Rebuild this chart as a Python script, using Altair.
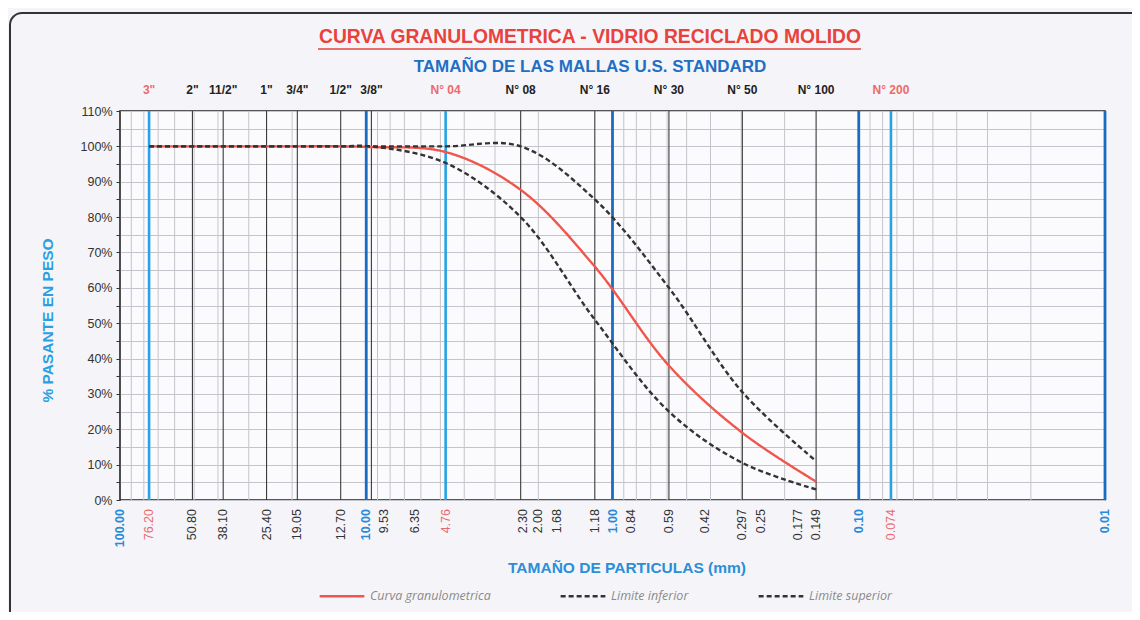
import altair as alt
import pandas as pd

# ---------------- data ----------------
sizes = [76.2, 50.8, 38.1, 25.4, 19.05, 12.7, 9.53, 4.76, 2.36, 1.18, 0.59, 0.297, 0.149]
curva = [100, 100, 100, 100, 100, 100, 99.8, 98.4, 87.7, 66, 38, 19, 5.2]
inferior = [100, 100, 100, 100, 100, 100, 100, 95.3, 80, 51, 25, 10.5, 3]
superior = [100, 100, 100, 100, 100, 100, 100, 100, 100, 85, 60, 30.5, 11]
series_names = ["Curva granulometrica", "Limite inferior", "Limite superior"]

# top sieve labels
top_vals = [76.2, 50.8, 38.1, 25.4, 19.05, 12.7, 9.53, 4.76, 2.36, 1.18, 0.59, 0.297, 0.149, 0.074]
top_text = ['3"', '2"', '11/2"', '1"', '3/4"', '1/2"', '3/8"', 'N° 04', 'N° 08', 'N° 16',
            'N° 30', 'N° 50', 'N° 100', 'N° 200']
top_red = ['3"', 'N° 04', 'N° 200']

# bottom size labels
bot_vals = [100, 76.2, 50.8, 38.1, 25.4, 19.05, 12.7, 10, 9.53, 6.35, 4.76, 2.30, 2.00, 1.68,
            1.18, 1.00, 0.84, 0.59, 0.42, 0.297, 0.25, 0.177, 0.149, 0.10, 0.074, 0.01]
bot_text = ["100.00", "76.20", "50.80", "38.10", "25.40", "19.05", "12.70", "10.00", "9.53",
            "6.35", "4.76", "2.30", "2.00", "1.68", "1.18", "1.00", "0.84", "0.59", "0.42",
            "0.297", "0.25", "0.177", "0.149", "0.10", "0.074", "0.01"]
bot_blue = ["100.00", "10.00", "1.00", "0.10", "0.01"]
bot_red = ["76.20", "4.76", "0.074"]
bot_shifted = ["9.53"]

# vertical lines
minor_grid = [90, 80, 70, 60, 50, 40, 30, 20, 9, 8, 7, 6, 5, 4, 3, 2,
              0.9, 0.8, 0.7, 0.6, 0.5, 0.4, 0.3, 0.2, 0.09, 0.08, 0.07, 0.06, 0.05, 0.04, 0.03, 0.02]
sieve_lines = [50.8, 38.1, 25.4, 19.05, 12.7, 9.53, 2.36, 1.18, 0.59, 0.297, 0.149]
blue_light = [76.2, 4.76, 0.074]
blue_dark = [10, 1, 0.1, 0.01]
y_ticks = list(range(0, 111, 5))

TITLE = "CURVA GRANULOMETRICA - VIDRIO RECICLADO MOLIDO"
SUBTITLE = "TAMAÑO DE LAS MALLAS U.S. STANDARD"
XTITLE = "TAMAÑO DE PARTICULAS (mm)"
YTITLE = "% PASANTE EN PESO"

FONT = "Liberation Sans"
H = 389

# ---------------- tables ----------------
rows = []
for name, vals in zip(series_names, [curva, inferior, superior]):
    for s, v in zip(sizes, vals):
        rows.append({"size": s, "pct": v, "serie": name})
curves_df = pd.DataFrame(rows)

top_df = pd.DataFrame({"v": top_vals, "t": top_text})
top_df["kind"] = ["red" if t in top_red else "black" for t in top_text]

bot_df = pd.DataFrame({"v": bot_vals, "t": bot_text})
bot_df["kind"] = ["blue" if t in bot_blue else ("red" if t in bot_red else
                  ("shift" if t in bot_shifted else "black")) for t in bot_text]

xs = alt.Scale(type="log", domain=[0.01, 100], reverse=True, nice=False)
X = lambda f: alt.X(f"{f}:Q", scale=xs, axis=None)

# ---------------- layers ----------------
frame = alt.Chart(pd.DataFrame({"a": [0]})).mark_rect(
    fill=None, stroke="#333", strokeWidth=2, cornerRadius=12
).encode(x=alt.value(-110), x2=alt.value(1100), y=alt.value(-98), y2=alt.value(620))

minor = alt.Chart(pd.DataFrame({"v": minor_grid})).mark_rule(
    color="#c4c4cc", strokeWidth=1).encode(x=X("v"))

sieve = alt.Chart(pd.DataFrame({"v": sieve_lines})).mark_rule(
    color="#3a3a3a", strokeWidth=1.1).encode(x=X("v"))

bl = alt.Chart(pd.DataFrame({"v": blue_light})).mark_rule(
    color="#27a2e6", strokeWidth=2.6).encode(x=X("v"))

bd = alt.Chart(pd.DataFrame({"v": blue_dark})).mark_rule(
    color="#1a6cc2", strokeWidth=2.8).encode(x=X("v"))

curves = alt.Chart(curves_df).mark_line(interpolate="catmull-rom", strokeWidth=2.4).encode(
    x=X("size"),
    y=alt.Y("pct:Q", scale=alt.Scale(domain=[0, 110], nice=False),
            axis=alt.Axis(values=y_ticks, labelExpr="datum.value % 10 == 0 ? datum.value + '%' : ''",
                          grid=True, gridColor="#c4c4cc", gridWidth=1, domain=False,
                          tickColor="#333", tickSize=4, labelFont=FONT, labelFontSize=12.5,
                          labelColor="#333", labelPadding=4, title=YTITLE, titleFont=FONT,
                          titleFontSize=15.5, titleFontWeight="bold", titleColor="#2a9fe2",
                          titlePadding=25, titleY=209)),
    color=alt.Color("serie:N", scale=alt.Scale(domain=series_names,
                                                range=["#f0564c", "#333333", "#333333"]),
                    legend=alt.Legend(title=None, orient="none", legendX=198, legendY=461,
                                      direction="horizontal", symbolType="stroke",
                                      symbolSize=2000, symbolStrokeWidth=2.5,
                                      labelFont="Open Sans", labelFontStyle="italic",
                                      labelFontSize=12.5, labelColor="#8a8a8a",
                                      columnPadding=64, labelOffset=4)),
    strokeDash=alt.StrokeDash("serie:N", scale=alt.Scale(domain=series_names,
                                                         range=[[1, 0], [5, 3], [5, 3]]),
                              legend=alt.Legend(title=None)),
    order=alt.Order("size:Q", sort="descending"),
)

def txt(df, **kw):
    return alt.Chart(df).mark_text(font=FONT, **kw)

top_black = txt(top_df, fontSize=12, fontWeight="bold", color="#222", baseline="middle").encode(
    x=X("v"), y=alt.value(-21), text="t:N").transform_filter("datum.kind == 'black'")
top_r = txt(top_df, fontSize=12, fontWeight="bold", color="#ee6a6a", baseline="middle").encode(
    x=X("v"), y=alt.value(-21), text="t:N").transform_filter("datum.kind == 'red'")

bot_common = dict(fontSize=12.5, angle=270, align="right", baseline="middle")
BY = H + 9
bot_k = txt(bot_df, color="#333", **bot_common).encode(
    x=X("v"), y=alt.value(BY), text="t:N").transform_filter("datum.kind == 'black'")
bot_s = txt(bot_df, color="#333", dy=13, **bot_common).encode(
    x=X("v"), y=alt.value(BY), text="t:N").transform_filter("datum.kind == 'shift'")
bot_r = txt(bot_df, color="#ea6a70", **bot_common).encode(
    x=X("v"), y=alt.value(BY), text="t:N").transform_filter("datum.kind == 'red'")
bot_b = txt(bot_df, color="#2a8ad6", fontWeight="bold", **bot_common).encode(
    x=X("v"), y=alt.value(BY), text="t:N").transform_filter("datum.kind == 'blue'")

title = txt(pd.DataFrame({"t": [TITLE]}), fontSize=19.3, fontWeight="bold", color="#e8423c",
            baseline="middle").encode(x=alt.value(470), y=alt.value(-74), text="t:N")
underline = alt.Chart(pd.DataFrame({"a": [0]})).mark_rule(color="#e8423c", strokeWidth=1.5).encode(
    x=alt.value(198), x2=alt.value(741), y=alt.value(-62))
subtitle = txt(pd.DataFrame({"t": [SUBTITLE]}), fontSize=17, fontWeight="bold", color="#1f6fc4",
               baseline="middle").encode(x=alt.value(470), y=alt.value(-44), text="t:N")
xtitle = txt(pd.DataFrame({"t": [XTITLE]}), fontSize=15.5, fontWeight="bold", color="#2a8fd8",
             baseline="middle").encode(x=alt.value(507), y=alt.value(457), text="t:N")

chart = alt.layer(
    frame, minor, sieve, bl, bd, curves, top_black, top_r, bot_k, bot_s, bot_r, bot_b,
    title, underline, subtitle, xtitle
).resolve_legend(color="shared").properties(
    width=985, height=H,
    autosize=alt.AutoSizeParams(type="none"),
    padding={"left": 112, "top": 103, "right": 27, "bottom": 112},
    background="#f5f5f9",
).configure_view(stroke="#222", strokeWidth=1.6, fill="#fbfbfd")

chart.save("out.html", embed_options={"renderer": "svg", "actions": False})
